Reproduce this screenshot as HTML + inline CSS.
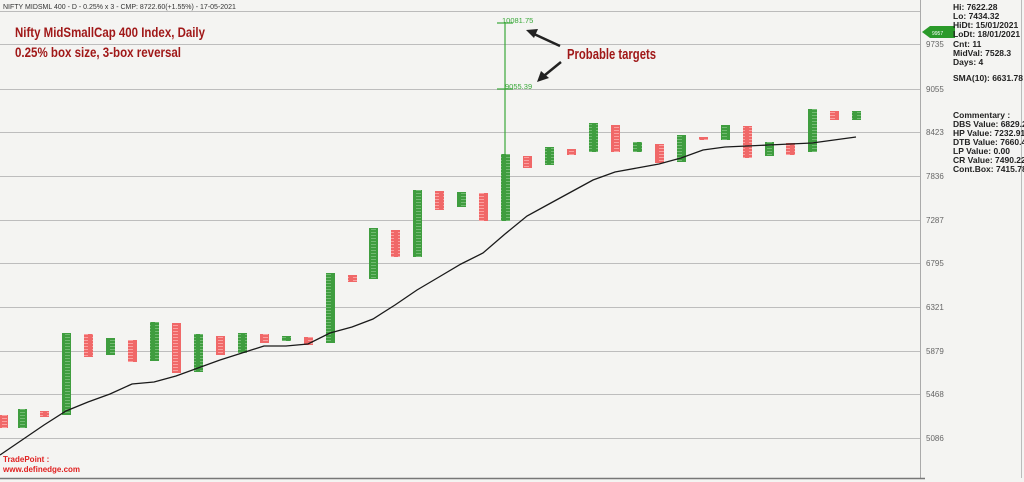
<!DOCTYPE html>
<html><head><meta charset="utf-8"><style>
body{margin:0;background:#f4f4f2;}
svg{display:block;font-family:"Liberation Sans",sans-serif;}
</style></head><body>
<svg width="1024" height="482" viewBox="0 0 1024 482">
<defs>
<pattern id="g" width="9" height="3" patternUnits="userSpaceOnUse"><rect width="9" height="3" fill="#3f9d3f"/><rect x="2" y="1" width="5" height="1" fill="#72bb72"/></pattern>
<pattern id="r" width="9" height="3" patternUnits="userSpaceOnUse"><rect width="9" height="3" fill="#f06868"/><rect x="2" y="1" width="5" height="1" fill="#fba0a0"/></pattern>
</defs>
<rect width="1024" height="482" fill="#f4f4f2"/>
<text x="3" y="9" font-size="7" fill="#333">NIFTY MIDSML 400 - D - 0.25% x 3 - CMP: 8722.60(+1.55%) - 17-05-2021</text>
<line x1="0" y1="11.5" x2="921" y2="11.5" stroke="#bbb"/>
<g stroke="#bdbdbd" stroke-width="1">
<line x1="0" y1="44.5" x2="921" y2="44.5"/>
<line x1="0" y1="89.5" x2="921" y2="89.5"/>
<line x1="0" y1="132.5" x2="921" y2="132.5"/>
<line x1="0" y1="176.5" x2="921" y2="176.5"/>
<line x1="0" y1="220.5" x2="921" y2="220.5"/>
<line x1="0" y1="263.5" x2="921" y2="263.5"/>
<line x1="0" y1="307.5" x2="921" y2="307.5"/>
<line x1="0" y1="351.5" x2="921" y2="351.5"/>
<line x1="0" y1="394.5" x2="921" y2="394.5"/>
<line x1="0" y1="438.5" x2="921" y2="438.5"/>
</g>
<line x1="920.5" y1="0" x2="920.5" y2="478" stroke="#aaa"/>
<line x1="0" y1="478.5" x2="925" y2="478.5" stroke="#777" stroke-width="1.5"/>
<line x1="1021.5" y1="0" x2="1021.5" y2="478" stroke="#bbb"/>
<g font-size="8" fill="#666">
<text x="926" y="47">9735</text><text x="926" y="92">9055</text><text x="926" y="135">8423</text>
<text x="926" y="179">7836</text><text x="926" y="223">7287</text><text x="926" y="266">6795</text>
<text x="926" y="310">6321</text><text x="926" y="354">5879</text><text x="926" y="397">5468</text><text x="926" y="441">5086</text>
</g>
<polygon points="922,32 930,26 955,26 955,38 930,38" fill="#2a9a2a"/>
<text x="932" y="35" font-size="5" fill="#fff">9957</text>
<g font-size="8.5" font-weight="bold" fill="#222">
<text x="953" y="10">Hi: 7622.28</text><text x="953" y="19">Lo: 7434.32</text>
<text x="953" y="28">HiDt: 15/01/2021</text><text x="953" y="37">LoDt: 18/01/2021</text>
<text x="953" y="47">Cnt: 11</text><text x="953" y="56">MidVal: 7528.3</text>
<text x="953" y="65">Days: 4</text><text x="953" y="81">SMA(10): 6631.78</text>
<text x="953" y="118">Commentary :</text><text x="953" y="127">DBS Value:  6829.2</text>
<text x="953" y="136">HP Value: 7232.91</text><text x="953" y="145">DTB Value: 7660.44</text>
<text x="953" y="154">LP Value: 0.00</text><text x="953" y="163">CR Value: 7490.22</text>
<text x="953" y="172">Cont.Box: 7415.78</text>
</g>
<text x="15" y="37" font-size="14" font-weight="bold" fill="#a01818" textLength="190" lengthAdjust="spacingAndGlyphs">Nifty MidSmallCap 400 Index, Daily</text>
<text x="15" y="57" font-size="14" font-weight="bold" fill="#a01818" textLength="166" lengthAdjust="spacingAndGlyphs">0.25% box size, 3-box reversal</text>
<text x="567" y="59" font-size="15" font-weight="bold" fill="#a01818" textLength="89" lengthAdjust="spacingAndGlyphs">Probable targets</text>
<g stroke="#222" stroke-width="2.5" fill="#222">
<line x1="560" y1="46" x2="534" y2="34"/><polygon points="526,30 538,29 534,38" stroke="none"/>
<line x1="561" y1="62" x2="545" y2="75"/><polygon points="537,82 541,71 549,78" stroke="none"/>
</g>
<g stroke="#3aa83a" stroke-width="1.2">
<line x1="505" y1="22" x2="505" y2="154"/><line x1="497" y1="23" x2="513" y2="23"/><line x1="497" y1="89" x2="513" y2="89"/>
</g>
<text x="502" y="23" font-size="7.5" fill="#3aa83a">10081.75</text>
<text x="505" y="89" font-size="7.5" fill="#3aa83a">9055.39</text>
<g>
<rect x="-1" y="415" width="9" height="13" fill="url(#r)"/>
<rect x="18" y="409" width="9" height="19" fill="url(#g)"/>
<rect x="40" y="411" width="9" height="6" fill="url(#r)"/>
<rect x="62" y="333" width="9" height="82" fill="url(#g)"/>
<rect x="84" y="334" width="9" height="23" fill="url(#r)"/>
<rect x="106" y="338" width="9" height="17" fill="url(#g)"/>
<rect x="128" y="340" width="9" height="22" fill="url(#r)"/>
<rect x="150" y="322" width="9" height="39" fill="url(#g)"/>
<rect x="172" y="323" width="9" height="50" fill="url(#r)"/>
<rect x="194" y="334" width="9" height="38" fill="url(#g)"/>
<rect x="216" y="336" width="9" height="19" fill="url(#r)"/>
<rect x="238" y="333" width="9" height="20" fill="url(#g)"/>
<rect x="260" y="334" width="9" height="9" fill="url(#r)"/>
<rect x="282" y="336" width="9" height="5" fill="url(#g)"/>
<rect x="304" y="337" width="9" height="8" fill="url(#r)"/>
<rect x="326" y="273" width="9" height="70" fill="url(#g)"/>
<rect x="348" y="275" width="9" height="7" fill="url(#r)"/>
<rect x="369" y="228" width="9" height="51" fill="url(#g)"/>
<rect x="391" y="230" width="9" height="27" fill="url(#r)"/>
<rect x="413" y="190" width="9" height="67" fill="url(#g)"/>
<rect x="435" y="191" width="9" height="19" fill="url(#r)"/>
<rect x="457" y="192" width="9" height="15" fill="url(#g)"/>
<rect x="479" y="193" width="9" height="28" fill="url(#r)"/>
<rect x="501" y="154" width="9" height="67" fill="url(#g)"/>
<rect x="523" y="156" width="9" height="12" fill="url(#r)"/>
<rect x="545" y="147" width="9" height="18" fill="url(#g)"/>
<rect x="567" y="149" width="9" height="6" fill="url(#r)"/>
<rect x="589" y="123" width="9" height="29" fill="url(#g)"/>
<rect x="611" y="125" width="9" height="27" fill="url(#r)"/>
<rect x="633" y="142" width="9" height="10" fill="url(#g)"/>
<rect x="655" y="144" width="9" height="19" fill="url(#r)"/>
<rect x="677" y="135" width="9" height="27" fill="url(#g)"/>
<rect x="699" y="137" width="9" height="3" fill="url(#r)"/>
<rect x="721" y="125" width="9" height="15" fill="url(#g)"/>
<rect x="743" y="126" width="9" height="32" fill="url(#r)"/>
<rect x="765" y="142" width="9" height="14" fill="url(#g)"/>
<rect x="786" y="143" width="9" height="12" fill="url(#r)"/>
<rect x="808" y="109" width="9" height="43" fill="url(#g)"/>
<rect x="830" y="111" width="9" height="9" fill="url(#r)"/>
<rect x="852" y="111" width="9" height="9" fill="url(#g)"/>
</g>
<polyline fill="none" stroke="#1a1a1a" stroke-width="1.3" points="0,455 22,440 44,425 66,411 88,402 110,394 132,384 154,382 176,376 198,368 220,360 242,353 264,346 286,346 308,344 330,333 352,327 373,319 395,305 417,290 439,277 461,264 483,253 505,234 527,216 549,204 571,192 593,180 615,172 637,168 659,164 681,158 703,150 725,147 747,146 769,145 790,144 812,143 834,140 856,137"/>
<text x="3" y="462" font-size="8" font-weight="bold" fill="#e02020">TradePoint :</text>
<text x="3" y="472" font-size="8" font-weight="bold" fill="#e02020">www.definedge.com</text>
</svg>
</body></html>
